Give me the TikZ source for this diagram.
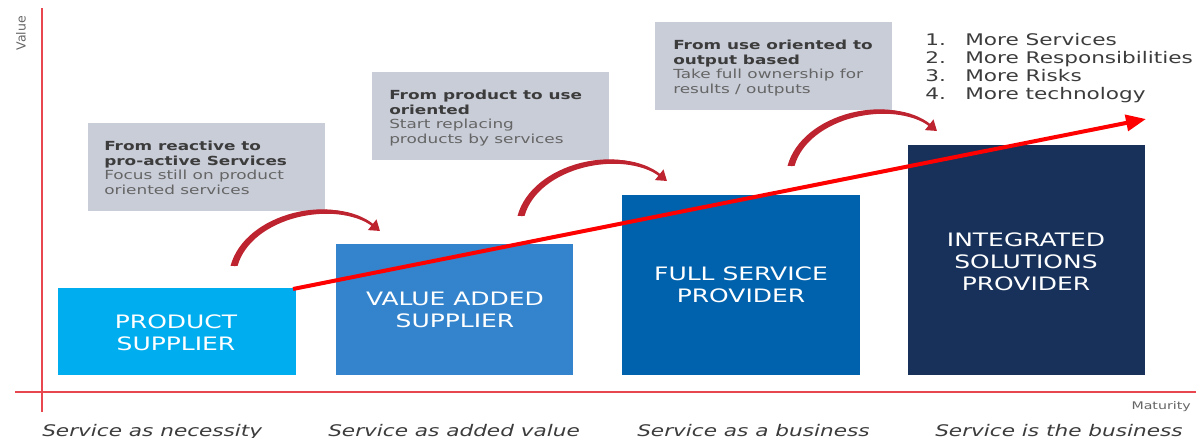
\documentclass[tikz,border=0pt]{standalone}
\usepackage{fontspec}
\setmainfont{DejaVu Sans}
\usetikzlibrary{arrows.meta}
\definecolor{axisred}{HTML}{E8474F}
\definecolor{b1}{HTML}{00AEEF}
\definecolor{b2}{HTML}{3384CC}
\definecolor{b3}{HTML}{0062AD}
\definecolor{b4}{HTML}{17315A}
\definecolor{greybox}{HTML}{C9CDD8}
\definecolor{titlegrey}{HTML}{3C3C3C}
\definecolor{subgrey}{HTML}{656565}
\definecolor{curvered}{HTML}{BE2430}
\begin{document}
\begin{tikzpicture}[x=1pt,y=-1pt,
  wide/.style={xscale=1.35},
  stage/.style={anchor=north,inner sep=0pt,text=white,align=center,wide,font=\fontsize{18.5}{22}\selectfont},
  note/.style={fill=greybox,anchor=north west,minimum width=237pt,minimum height=88pt,inner sep=0pt},
  notetext/.style={anchor=north west,inner sep=0pt,align=left,wide,font=\fontsize{12.5}{14.6}\selectfont},
  bottom/.style={anchor=base west,inner sep=0pt,text=titlegrey,wide,font=\fontsize{16}{18}\selectfont\itshape},
  curvearrow/.style={curvered,line width=2.5pt,-{Triangle[width=13pt,length=10pt]}}]
\useasboundingbox (0,0) rectangle (1196,438);
% axes
\coordinate (ytop) at (42,8);
\coordinate (ybot) at (42,412);
\coordinate (xl) at (15,392);
\coordinate (xr) at (1196,392);
\draw[axisred,line width=2pt] (ytop) -- (ybot);
\draw[axisred,line width=2pt] (xl) -- (xr);
\node[rotate=90,anchor=east,text=subgrey,font=\fontsize{12.5}{14}\selectfont,inner sep=0pt] (val) at (21,16) {Value};
\node[anchor=base east,text=subgrey,wide,font=\fontsize{10.5}{12}\selectfont,inner sep=0pt] (mat) at (1191,409) {Maturity};
% stage boxes
\fill[b1] (58,288) rectangle (296,375);
\fill[b2] (336,244) rectangle (573,375);
\fill[b3] (622,195) rectangle (860,375);
\fill[b4] (908,145) rectangle (1145,375);
\node[stage] (s1) at (176,315) {PRODUCT\\SUPPLIER};
\node[stage] (s2) at (455,292) {VALUE ADDED\\SUPPLIER};
\node[stage] (s3) at (741,267) {FULL SERVICE\\PROVIDER};
\node[stage] (s4) at (1026,233) {INTEGRATED\\SOLUTIONS\\PROVIDER};
% notes
\node[note] (n1) at (88,123) {};
\node[note] (n2) at (372,72) {};
\node[note] (n3) at (655,22) {};
\node[notetext] (t1) at (104,141) {\textcolor{titlegrey}{\bfseries From reactive to}\\\textcolor{titlegrey}{\bfseries pro-active Services}\\\textcolor{subgrey}{Focus still on product}\\\textcolor{subgrey}{oriented services}};
\node[notetext] (t2) at (389,90) {\textcolor{titlegrey}{\bfseries From product to use}\\\textcolor{titlegrey}{\bfseries oriented}\\\textcolor{subgrey}{Start replacing}\\\textcolor{subgrey}{products by services}};
\node[notetext] (t3) at (673,40) {\textcolor{titlegrey}{\bfseries From use oriented to}\\\textcolor{titlegrey}{\bfseries output based}\\\textcolor{subgrey}{Take full ownership for}\\\textcolor{subgrey}{results / outputs}};
% list
\node[anchor=north west,inner sep=0pt,align=left,text=titlegrey,wide,font=\fontsize{16}{18}\selectfont] (lst) at (925,33)
 {1.\hspace{0.9em}More Services\\2.\hspace{0.9em}More Responsibilities\\3.\hspace{0.9em}More Risks\\4.\hspace{0.9em}More technology};
% main arrow
\coordinate (rs) at (293,289);
\coordinate (re) at (1146,119);
\draw[red,line width=4pt,-{Triangle[width=16pt,length=20pt]}] (rs) -- (re);
% curved arrows (tapered body + thin stroke with head)
\foreach \dx/\dy [count=\i] in {234/266, 521/216, 791/166} {
  \begin{scope}[shift={(\dx,\dy)}]
    \coordinate (c\i s) at (0,0);
    \coordinate (c\i e) at (146,-35);
    \fill[curvered] (-3.5,0) .. controls (10.5,-53) and (101,-75) .. (140,-39)
       .. controls (101,-67) and (17.5,-49) .. (3.5,0) -- cycle;
    \draw[curvearrow] (c\i s) .. controls (14,-51) and (101,-71) .. (c\i e);
  \end{scope}
}
% bottom labels
\node[bottom] (l1) at (42,436) {Service as necessity};
\node[bottom] (l2) at (328,436) {Service as added value};
\node[bottom] (l3) at (637,436) {Service as a business};
\node[bottom] (l4) at (935,436) {Service is the business};
\end{tikzpicture}
\end{document}
